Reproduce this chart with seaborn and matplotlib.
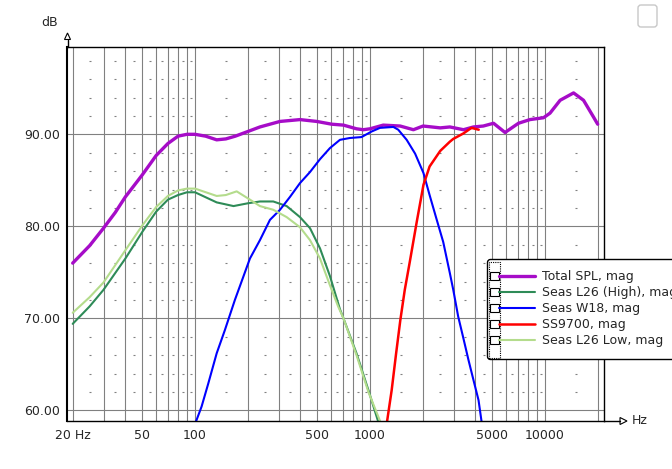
import seaborn as sns
import matplotlib.pyplot as plt
from matplotlib.lines import Line2D
from matplotlib.patches import Rectangle, FancyBboxPatch, Polygon
from matplotlib.ticker import FixedLocator, NullFormatter

## Curves (Hz, dB)
total_hz = [20, 25, 30, 35, 40, 50, 60, 70, 80, 90, 100, 115, 133, 150, 170, 200, 235,
            306, 398, 496, 604, 705, 837, 916, 1000, 1190, 1487, 1770, 2010, 2520, 2860,
            3420, 3900, 4440, 5080, 5910, 7050, 8200, 9800, 10680, 12200, 14560, 16600,
            18900, 20000]
total_db = [76.0, 77.9, 79.8, 81.5, 83.2, 85.6, 87.7, 89.0, 89.8, 90.0, 90.0, 89.8, 89.4,
            89.5, 89.8, 90.3, 90.8, 91.4, 91.6, 91.4, 91.1, 91.0, 90.6, 90.5, 90.6, 91.0,
            90.9, 90.5, 90.9, 90.7, 90.8, 90.5, 90.8, 90.9, 91.2, 90.2, 91.2, 91.6, 91.8,
            92.3, 93.7, 94.5, 93.7, 91.9, 91.1]

l26_high_hz = [20, 25, 30, 40, 50, 60, 70, 80, 90, 100, 133, 166, 200, 235, 280, 334,
               398, 454, 518, 590, 673, 705, 837, 979, 1125]
l26_high_db = [69.4, 71.3, 73.1, 76.5, 79.4, 81.6, 82.9, 83.4, 83.7, 83.7, 82.6, 82.2,
               82.5, 82.7, 82.7, 82.2, 81.0, 79.8, 77.6, 74.6, 71.0, 70.0, 66.2, 62.2, 58.5]

w18_hz = [100, 109, 119, 133, 148, 169, 206, 235, 268, 306, 349, 398, 454, 518, 590,
          673, 767, 894, 1020, 1140, 1360, 1450, 1620, 1810, 2020, 2190, 2390, 2620,
          2860, 2990, 3190, 3400, 3650, 3900, 4170, 4360]
w18_db = [58.5, 60.4, 62.9, 66.2, 68.7, 72.0, 76.5, 78.5, 80.7, 81.8, 83.2, 84.7, 85.9,
          87.3, 88.5, 89.4, 89.6, 89.7, 90.3, 90.7, 90.8, 90.5, 89.4, 87.9, 85.8, 83.4,
          80.9, 78.3, 74.9, 73.1, 70.2, 68.0, 65.5, 63.3, 61.1, 58.5]

ss9700_hz = [1245, 1330, 1410, 1490, 1580, 1690, 1850, 2020, 2190, 2520, 2860, 2990,
             3420, 3800, 4180]
ss9700_db = [58.5, 62.2, 66.2, 69.8, 73.1, 76.2, 80.5, 84.5, 86.5, 88.2, 89.2, 89.5,
             90.1, 90.7, 90.5]

l26_low_hz = [20, 25, 30, 40, 50, 60, 70, 80, 90, 100, 133, 150, 173, 206, 235, 280,
              334, 398, 454, 518, 590, 657, 705, 837, 979, 1160]
l26_low_db = [70.6, 72.3, 73.9, 77.4, 80.1, 82.1, 83.3, 83.9, 84.1, 84.1, 83.3, 83.4,
              83.8, 82.9, 82.2, 81.8, 81.0, 79.9, 78.5, 76.5, 73.6, 71.3, 70.0, 66.0,
              62.0, 58.5]

series_names = ["Total SPL, mag", "Seas L26 (High), mag", "Seas W18, mag",
                "SS9700, mag", "Seas L26 Low, mag"]
series_colors = ["#a60cc8", "#2e8b57", "#0000ff", "#ff0000", "#b4dc8c"]
series_widths = [2.4, 1.5, 1.5, 1.8, 1.5]

x_labels = ["20 Hz", "50", "100", "500", "1000", "5000", "10000"]
x_label_hz = [20, 50, 100, 500, 1000, 5000, 10000]
y_ticks = [60, 70, 80, 90]

## Grid positions
grid_hz = [m * 10 ** d for d in range(1, 5) for m in range(1, 10) if 20 <= m * 10 ** d <= 20000]
dot_hz = [m * 10 ** d for d in (1, 2, 3) for m in (2.5, 3.5, 4.5, 5.5, 6.5, 7.5, 8.5, 9.5)] + [15000]
dot_hz = [h for h in dot_hz if h >= 25] + [150, 1500]
dot_db = [v for v in range(60, 100, 2) if v % 10 != 0]

sns.set_style("white")
plt.rcParams['font.family'] = ['DejaVu Sans']
plt.rcParams['font.size'] = 9

fig = plt.figure(figsize=(6.72, 4.69), dpi=100)
ax = fig.add_axes([67.3 / 672, 1 - 421 / 469, (604 - 67.3) / 672, (421 - 47) / 469])
ax.set_xscale('log')
ax.set_xlim(18.63, 21730)
ax.set_ylim(58.84, 99.49)

# grid
ax.xaxis.set_major_locator(FixedLocator(x_label_hz))
ax.set_xticklabels(x_labels)
ax.xaxis.set_minor_locator(FixedLocator(grid_hz))
ax.xaxis.set_minor_formatter(NullFormatter())
ax.set_yticks(y_ticks)
ax.set_yticklabels([f"{v:.2f}" for v in y_ticks])
ax.grid(which='both', axis='x', color='#808080', linewidth=0.8)
ax.grid(which='major', axis='y', color='#808080', linewidth=0.8)
ax.tick_params(which='both', length=0)
ax.tick_params(axis='x', pad=6)
ax.tick_params(axis='y', pad=5)
ax.set_axisbelow(True)

dx = [h for h in dot_hz for v in dot_db]
dy = [v for h in dot_hz for v in dot_db]
ax.plot(dx, dy, ls='none', marker='_', ms=1.6, mew=0.8, color='#808080', zorder=1)

for sp in ax.spines.values():
    sp.set_color('black')
    sp.set_linewidth(1.0)
ax.spines['left'].set_linewidth(1.5)

# curves
curves = [(total_hz, total_db), (l26_high_hz, l26_high_db), (w18_hz, w18_db),
          (ss9700_hz, ss9700_db), (l26_low_hz, l26_low_db)]
for (hz, db), c, lw in zip(curves, series_colors, series_widths):
    sns.lineplot(x=hz, y=db, ax=ax, color=c, linewidth=lw, legend=False)
ax.set_xlabel('')
ax.set_ylabel('')

# decorations in pixel space (origin top-left)
tr = fig.dpi_scale_trans
def P(x, y):
    return (x / 100, (469 - y) / 100)

fig.text(*P(50, 22), "dB", transform=tr, ha='center', va='center', fontsize=9)
fig.text(*P(640, 420), "Hz", transform=tr, ha='center', va='center', fontsize=9)

# axis arrows
fig.add_artist(Line2D(*zip(P(67.5, 47), P(67.5, 39.5)), color='black', lw=1.0, transform=tr))
fig.add_artist(Polygon([P(67.5, 33), P(64.5, 39.5), P(70.5, 39.5)], closed=True,
                       fill=False, edgecolor='black', lw=0.8, transform=tr))
fig.add_artist(Line2D(*zip(P(604, 421), P(620, 421)), color='black', lw=1.0, transform=tr))
fig.add_artist(Polygon([P(627, 421), P(620, 417.5), P(620, 424.5)], closed=True,
                       fill=False, edgecolor='black', lw=0.8, transform=tr))

# window button in the corner
fig.add_artist(FancyBboxPatch(P(638, 27), 0.19, 0.22, boxstyle="round,pad=0,rounding_size=0.03",
                              fill=False, edgecolor='#c8c8c8', lw=1.0, transform=tr))

# legend box (runs off the right edge, as in the source window)
fig.add_artist(FancyBboxPatch(P(487.5, 359.5), 2.0, 1.0, boxstyle="round,pad=0,rounding_size=0.03",
                              facecolor='white', edgecolor='black', lw=1.0, transform=tr, zorder=5))
fig.add_artist(Rectangle(P(488.5, 357.5), 0.11, 0.955, fill=False, edgecolor='black',
                         lw=0.8, ls=(0, (1, 1)), transform=tr, zorder=6))
for i, (name, c, lw) in enumerate(zip(series_names, series_colors, series_widths)):
    yc = 276 + 16.1 * i
    fig.add_artist(Rectangle(P(490, yc + 4), 0.085, 0.085, fill=False, edgecolor='black',
                             lw=0.8, transform=tr, zorder=7))
    fig.add_artist(Line2D(*zip(P(499, yc), P(535, yc)), color=c, lw=lw, transform=tr, zorder=7))
    fig.text(*P(542, yc), name, transform=tr, ha='left', va='center', fontsize=9, zorder=8)

plt.savefig('out.png', dpi=100)
